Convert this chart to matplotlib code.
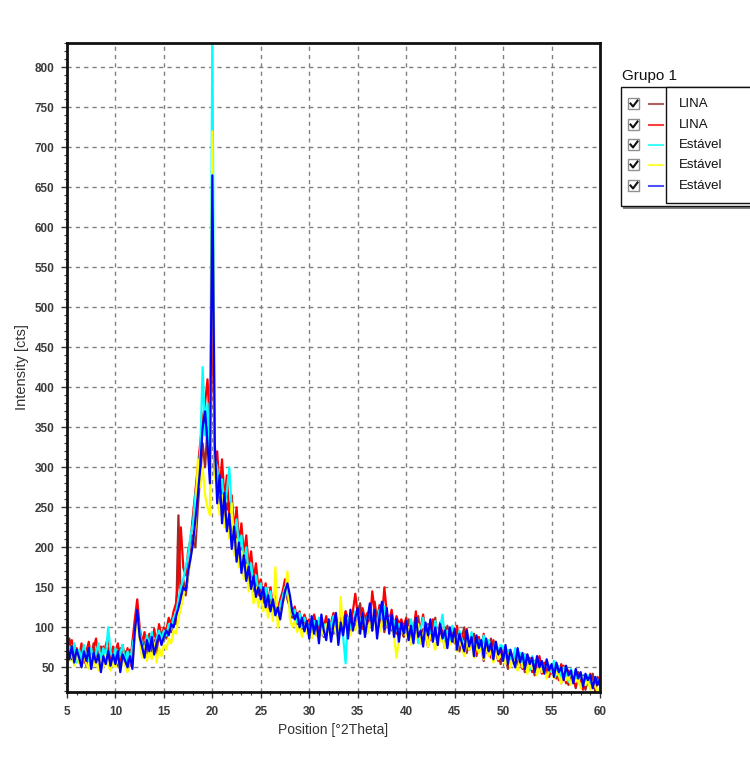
import numpy as np
import matplotlib
matplotlib.use("Agg")
import matplotlib.pyplot as plt
from matplotlib.patches import Rectangle
from matplotlib.ticker import MultipleLocator

plt.rcParams['font.family'] = ['Liberation Sans', 'DejaVu Sans']

# scan grid: 5 to 60 deg 2theta, step 0.25
two_theta = np.linspace(5, 60, 221)

lina_1 = [
    74, 86, 60, 78, 66, 56, 76, 64, 52, 74, 62, 80, 58, 70, 54, 76, 62, 74, 50, 70,
    66, 52, 74, 58, 70, 50, 72, 56, 100, 118, 92, 66, 82, 62, 88, 70, 84, 68, 94, 82,
    92, 86, 100, 94, 110, 104, 240, 130, 160, 140, 165, 190, 215, 200, 250, 290, 330, 300, 350, 310,
    530, 300, 280, 250, 290, 230, 255, 215, 235, 195, 220, 180, 200, 165, 185, 155, 170, 145, 160, 140,
    150, 130, 145, 122, 138, 118, 132, 112, 125, 140, 150, 135, 125, 112, 120, 104, 115, 98, 110, 102,
    104, 96, 112, 90, 106, 100, 88, 110, 96, 104, 92, 114, 98, 106, 94, 120, 102, 96, 112, 98,
    110, 130, 98, 114, 104, 120, 96, 132, 108, 100, 118, 94, 110, 104, 96, 106, 92, 100, 96, 88,
    96, 110, 82, 100, 88, 114, 80, 98, 92, 76, 104, 86, 112, 78, 96, 90, 74, 102, 84, 96,
    80, 94, 70, 88, 100, 68, 84, 78, 92, 64, 82, 76, 58, 80, 72, 86, 60, 76, 68, 54,
    70, 62, 48, 68, 56, 72, 50, 64, 58, 44, 66, 52, 60, 40, 56, 62, 46, 54, 38, 52,
    42, 56, 36, 48, 30, 52, 40, 28, 46, 38, 24, 44, 32, 40, 22, 36, 30, 42, 20, 34,
    28]

lina_2 = [
    66, 80, 84, 58, 74, 62, 80, 56, 70, 82, 58, 74, 86, 60, 76, 56, 78, 88, 62, 76,
    70, 80, 56, 78, 60, 74, 52, 82, 110, 135, 100, 80, 94, 72, 92, 76, 98, 80, 104, 88,
    100, 96, 112, 104, 120, 130, 160, 225, 175, 165, 195, 210, 240, 270, 300, 330, 360, 380, 410, 350,
    575, 290, 320, 270, 310, 260, 290, 240, 265, 220, 250, 205, 230, 190, 215, 175, 195, 160, 180, 150,
    160, 140, 155, 130, 150, 125, 140, 120, 135, 145, 160, 140, 130, 118, 126, 108, 120, 104, 116, 106,
    110, 98, 116, 102, 94, 108, 100, 114, 96, 106, 118, 100, 92, 112, 104, 120, 110, 100, 120, 142,
    116, 106, 124, 110, 118, 104, 145, 120, 110, 128, 112, 150, 118, 108, 122, 100, 114, 104, 110, 100,
    112, 90, 106, 94, 120, 86, 100, 116, 92, 104, 84, 110, 96, 80, 106, 92, 100, 78, 98, 90,
    86, 102, 78, 92, 84, 98, 72, 90, 80, 66, 88, 74, 92, 68, 80, 62, 84, 70, 58, 76,
    66, 74, 56, 70, 62, 52, 68, 58, 48, 66, 54, 62, 44, 58, 50, 64, 42, 56, 48, 38,
    52, 40, 48, 34, 54, 44, 30, 46, 36, 42, 26, 40, 34, 22, 38, 30, 42, 24, 32, 38,
    30]

estavel_1 = [
    60, 76, 66, 80, 56, 72, 60, 78, 64, 58, 74, 56, 68, 80, 58, 74, 62, 100, 70, 58,
    74, 56, 68, 78, 54, 70, 58, 76, 92, 115, 96, 78, 70, 90, 76, 94, 72, 86, 96, 84,
    96, 90, 104, 98, 112, 118, 135, 150, 160, 175, 190, 215, 230, 265, 290, 320, 425, 340, 380, 300,
    840, 310, 300, 265, 285, 250, 270, 300, 245, 215, 235, 200, 215, 180, 200, 165, 180, 150, 165, 145,
    155, 140, 150, 130, 145, 120, 135, 115, 128, 138, 150, 140, 128, 115, 122, 106, 118, 100, 112, 104,
    100, 94, 108, 98, 112, 90, 104, 96, 110, 100, 114, 92, 106, 98, 88, 55, 112, 100, 96, 120,
    112, 104, 118, 100, 112, 124, 104, 116, 100, 122, 110, 126, 104, 112, 100, 108, 96, 104, 98, 92,
    100, 86, 110, 92, 104, 80, 98, 112, 88, 102, 94, 82, 108, 90, 98, 116, 84, 96, 80, 102,
    92, 78, 96, 84, 74, 90, 82, 94, 68, 88, 80, 72, 90, 70, 84, 76, 66, 82, 70, 78,
    76, 60, 72, 64, 56, 74, 60, 68, 52, 66, 58, 46, 64, 54, 60, 48, 56, 44, 58, 50,
    44, 58, 40, 52, 36, 50, 44, 32, 48, 38, 46, 30, 42, 36, 28, 40, 34, 26, 38, 30,
    36]

estavel_2 = [
    74, 58, 70, 52, 68, 56, 50, 66, 54, 48, 64, 52, 62, 46, 60, 50, 66, 52, 46, 60,
    50, 64, 46, 60, 54, 44, 62, 50, 88, 110, 84, 62, 76, 58, 72, 60, 80, 56, 74, 64,
    78, 72, 86, 80, 96, 92, 112, 124, 140, 150, 165, 185, 205, 225, 310, 275, 300, 265, 250, 240,
    720, 290, 270, 240, 265, 225, 245, 210, 255, 190, 210, 175, 195, 160, 178, 145, 160, 130, 150, 125,
    140, 120, 135, 112, 130, 108, 175, 100, 115, 128, 140, 170, 112, 100, 108, 94, 104, 88, 100, 92,
    96, 86, 100, 92, 84, 98, 90, 104, 96, 88, 102, 94, 86, 138, 92, 108, 98, 90, 104, 96,
    108, 96, 112, 100, 92, 106, 98, 114, 102, 94, 108, 100, 112, 96, 104, 90, 62, 86, 96, 92,
    90, 100, 78, 94, 86, 104, 80, 92, 98, 76, 90, 84, 72, 96, 82, 88, 74, 90, 78, 84,
    88, 70, 84, 76, 64, 86, 72, 80, 62, 78, 68, 74, 60, 76, 64, 70, 56, 72, 60, 66,
    62, 54, 68, 50, 60, 56, 46, 62, 50, 56, 42, 58, 48, 52, 40, 54, 44, 50, 36, 46,
    48, 36, 44, 40, 30, 46, 34, 38, 28, 42, 32, 36, 24, 38, 28, 34, 22, 32, 26, 20,
    24]

estavel_3 = [
    82, 60, 76, 56, 72, 62, 50, 70, 58, 74, 48, 68, 56, 66, 44, 64, 54, 70, 52, 66,
    54, 70, 44, 66, 58, 50, 64, 48, 95, 122, 88, 76, 62, 84, 70, 88, 66, 80, 90, 78,
    88, 96, 90, 104, 100, 114, 124, 138, 150, 146, 170, 186, 205, 235, 265, 300, 350, 370, 330, 280,
    665, 330, 255, 290, 230, 268, 220, 242, 198, 226, 182, 206, 168, 190, 158, 176, 148, 164, 138, 150,
    135, 150, 125, 140, 120, 135, 115, 125, 110, 130, 145, 155, 140, 120, 110, 118, 100, 112, 95, 108,
    86, 114, 92, 108, 80, 116, 96, 84, 110, 82, 104, 118, 78, 106, 90, 116, 86, 122, 96, 112,
    124, 92, 118, 88, 110, 130, 96, 122, 86, 114, 132, 98, 124, 92, 116, 88, 110, 82, 106, 92,
    108, 84, 102, 80, 112, 88, 96, 76, 106, 90, 110, 82, 100, 78, 104, 86, 96, 74, 100, 82,
    98, 72, 92, 80, 70, 96, 76, 88, 64, 90, 74, 84, 62, 86, 70, 80, 60, 82, 66, 74,
    58, 78, 54, 72, 60, 50, 74, 56, 68, 48, 66, 54, 62, 44, 64, 50, 58, 42, 60, 46,
    54, 38, 56, 44, 50, 34, 52, 40, 46, 30, 48, 36, 44, 26, 42, 34, 40, 24, 38, 28,
    36]

series = [lina_1, lina_2, estavel_1, estavel_2, estavel_3]
labels = ['LINA', 'LINA', 'Estável', 'Estável', 'Estável']
colors = ['#a02828', '#ff0000', '#00ffff', '#ffff00', '#0000ff']
legend_colors = ['#b06060', '#ff4040', '#40ffff', '#ffff40', '#5050ff']

fig = plt.figure(figsize=(7.5, 7.62), dpi=100)
ax = fig.add_axes([0.0893, 0.0922, 0.7107, 0.851])

for y, c in zip(series, colors):
    ax.plot(two_theta, y, color=c, linewidth=1.6)

ax.set_xlim(5, 60)
ax.set_ylim(19.5, 830)
ax.xaxis.set_major_locator(MultipleLocator(5))
ax.xaxis.set_minor_locator(MultipleLocator(1))
ax.yaxis.set_major_locator(MultipleLocator(50))
ax.yaxis.set_minor_locator(MultipleLocator(10))
ax.yaxis.set_major_formatter(plt.FuncFormatter(lambda v, p: '%d' % v if v >= 50 else ''))

ax.grid(True, which='major', color='#808080', linestyle=(0, (3, 3)), linewidth=1)
ax.tick_params(which='major', direction='out', length=4, width=1, color='#333333',
               labelsize=8.5, labelcolor='#3a3a3a')
ax.tick_params(which='minor', direction='out', length=2, width=0.8, color='#333333')
ax.tick_params(axis='x', which='major', pad=6)
ax.tick_params(axis='y', which='major', pad=5)
for lab in ax.get_xticklabels() + ax.get_yticklabels():
    lab.set_fontweight('bold')
for s in ax.spines.values():
    s.set_linewidth(2)
    s.set_color('#111111')

ax.set_xlabel('Position [°2Theta]', fontsize=10, color='#333333', labelpad=4)
ax.set_ylabel('Intensity [cts]', fontsize=10.5, color='#333333', labelpad=4)

# legend panel drawn in pixel coordinates
lg = fig.add_axes([0, 0, 1, 1], facecolor='none')
lg.set_xlim(0, 750)
lg.set_ylim(762, 0)
lg.axis('off')

lg.text(622, 76, 'Grupo 1', fontsize=11, va='center', ha='left', color='#111111')
lg.add_patch(Rectangle((623, 89), 130, 120, facecolor='#808080', edgecolor='none'))
lg.add_patch(Rectangle((621, 87), 130, 119, facecolor='white', edgecolor='#111111', linewidth=1))
lg.add_patch(Rectangle((666, 87), 90, 116, facecolor='white', edgecolor='#111111', linewidth=1))

row_y = [104, 125, 145, 165, 186]
for yy, lab, c in zip(row_y, labels, legend_colors):
    lg.add_patch(Rectangle((628, yy - 6), 11, 11, facecolor='white', edgecolor='#909090', linewidth=1))
    lg.plot([630.5, 633, 637.5], [yy - 0.5, yy + 2.5, yy - 3.5], color='#111111', linewidth=1.5)
    lg.plot([649, 663], [yy, yy], color=c, linewidth=1.5)
    lg.text(679, yy, lab, fontsize=9.5, va='center', ha='left', color='#111111')

fig.savefig('out.png', dpi=100)
